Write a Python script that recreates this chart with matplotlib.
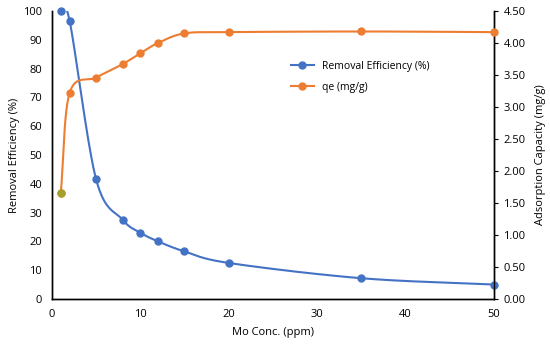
import matplotlib
matplotlib.use("Agg")
import numpy as np
import matplotlib.pyplot as plt

plt.rcParams["font.family"] = ["Open Sans", "DejaVu Sans"]

conc = [1, 2, 5, 8, 10, 12, 15, 20, 35, 50]
removal = [100, 96.5, 41.5, 27.5, 23, 20, 16.5, 12.5, 7.2, 5]
qe = [1.66, 3.22, 3.46, 3.67, 3.84, 4.0, 4.15, 4.17, 4.18, 4.17]

BLUE = "#4472C4"
ORANGE = "#ED7D31"


def smooth(x, y, n=40):
    # Catmull-Rom style curve through the points (like Excel's smoothed line)
    x = np.asarray(x, float)
    y = np.asarray(y, float)
    px = np.concatenate([[2 * x[0] - x[1]], x, [2 * x[-1] - x[-2]]])
    py = np.concatenate([[2 * y[0] - y[1]], y, [2 * y[-1] - y[-2]]])
    xs, ys = [], []
    t = np.linspace(0, 1, n)
    for i in range(1, len(px) - 2):
        p0, p1, p2, p3 = [np.array([px[j], py[j]]) for j in range(i - 1, i + 3)]
        c1 = p1 + (p2 - p0) / 6
        c2 = p2 - (p3 - p1) / 6
        seg = ((1 - t) ** 3)[:, None] * p1 + (3 * (1 - t) ** 2 * t)[:, None] * c1 \
            + (3 * (1 - t) * t ** 2)[:, None] * c2 + (t ** 3)[:, None] * p2
        xs.append(seg[:, 0])
        ys.append(seg[:, 1])
    return np.concatenate(xs), np.concatenate(ys)


fig = plt.figure(figsize=(5.5, 3.44), dpi=100)
ax = fig.add_axes([0.0945, 0.131, 0.803, 0.837])
ax2 = ax.twinx()

sx, sy = smooth(conc, removal)
ax.plot(sx, sy, color=BLUE, linewidth=1.5, zorder=3)
ax.plot(conc, removal, "o", color=BLUE, markersize=5, zorder=4, clip_on=False)

qx, qy = smooth(conc, qe)
ax2.plot(qx, qy, color=ORANGE, linewidth=1.5, zorder=3)
ax2.plot(conc, qe, "o", color=ORANGE, markersize=5, zorder=4, clip_on=False)
ax2.plot(conc[0], qe[0], "o", color="#A5A02D", markersize=5, zorder=5)

# legend proxies
ax.plot([], [], "-o", color=BLUE, markersize=5, linewidth=1.5,
        label="Removal Efficiency (%)")
ax.plot([], [], "-o", color=ORANGE, markersize=5, linewidth=1.5,
        label="qe (mg/g)")
ax.legend(loc="upper left", bbox_to_anchor=(0.52, 0.86), frameon=False,
          fontsize=7.5, handlelength=2.2, labelspacing=1.0)

ax.set_xlim(0, 50)
ax.set_ylim(0, 100)
ax2.set_ylim(0, 4.5)
ax.set_xticks(np.arange(0, 51, 10))
ax.set_yticks(np.arange(0, 101, 10))
ax2.set_yticks(np.arange(0, 4.51, 0.5))
ax2.set_yticklabels([f"{v:.2f}" for v in np.arange(0, 4.51, 0.5)])

for a in (ax, ax2):
    a.spines["top"].set_visible(False)
    for s in ("left", "right", "bottom"):
        a.spines[s].set_linewidth(1.0)
        a.spines[s].set_color("black")
ax.tick_params(axis="both", length=0, labelsize=8, pad=7)
ax2.tick_params(axis="y", length=3, labelsize=8, pad=4)

ax.set_xlabel("Mo Conc. (ppm)", fontsize=8, labelpad=5)
ax.set_ylabel("Removal Efficiency (%)", fontsize=8, labelpad=2)
ax2.set_ylabel("Adsorption Capacity (mg/g)", fontsize=8, labelpad=7)

fig.savefig("out.png", dpi=100)
